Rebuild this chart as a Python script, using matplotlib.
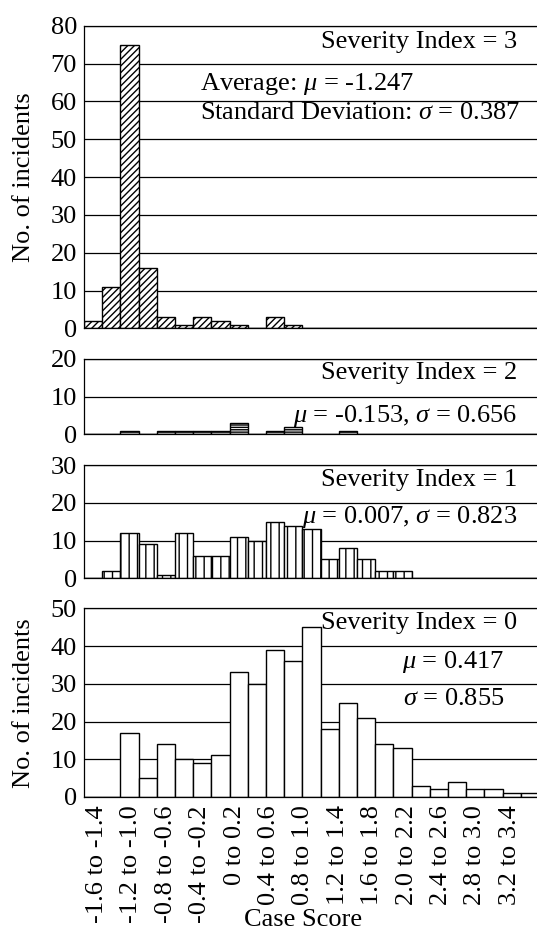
import numpy as np
import matplotlib
matplotlib.use('Agg')
import matplotlib.pyplot as plt

plt.rcParams['font.family'] = ['Liberation Serif', 'DejaVu Serif']
plt.rcParams['mathtext.fontset'] = 'custom'
plt.rcParams['mathtext.rm'] = 'Liberation Serif'
plt.rcParams['mathtext.it'] = 'Liberation Serif:italic'
plt.rcParams['hatch.linewidth'] = 1.0

# case score bins of width 0.2, from -1.6 up to 3.4
bin_labels = ['-1.6 to -1.4', '-1.2 to -1.0', '-0.8 to -0.6', '-0.4 to -0.2',
              '0 to 0.2', '0.4 to 0.6', '0.8 to 1.0', '1.2 to 1.4',
              '1.6 to 1.8', '2.0 to 2.2', '2.4 to 2.6', '2.8 to 3.0',
              '3.2 to 3.4']

# number of incidents per bin, one list per severity index
sev3 = [2, 11, 75, 16, 3, 1, 3, 2, 1, 0, 3, 1, 0,
        0, 0, 0, 0, 0, 0, 0, 0, 0, 0, 0, 0]
sev2 = [0, 0, 1, 0, 1, 1, 1, 1, 3, 0, 1, 2, 0,
        0, 1, 0, 0, 0, 0, 0, 0, 0, 0, 0, 0]
sev1 = [0, 2, 12, 9, 1, 12, 6, 6, 11, 10, 15, 14, 13,
        5, 8, 5, 2, 2, 0, 0, 0, 0, 0, 0, 0]
sev0 = [0, 0, 17, 5, 14, 10, 9, 11, 33, 30, 39, 36, 45,
        18, 25, 21, 14, 13, 3, 2, 4, 2, 2, 1, 1]

FS = 19

def draw_panel(ax, counts, ymax, hatch):
	x = np.arange(len(counts))
	ax.bar(x, counts, width=1.0, align='edge', color='white', edgecolor='black',
	       linewidth=1.0, hatch=hatch, zorder=2)
	ax.set_xlim(0, len(counts))
	ax.set_ylim(0, ymax)
	ax.set_yticks(np.arange(0, ymax + 1, 10))
	ax.yaxis.grid(True, color='black', linewidth=0.9)
	ax.set_axisbelow(True)
	ax.tick_params(length=0, pad=5, labelsize=FS)
	ax.set_xticks([])
	for s in ax.spines.values():
		s.set_linewidth(0.9)

fig = plt.figure(figsize=(5.37, 9.33), dpi=100)
left, width = 0.1564, 0.8473
ax3 = fig.add_axes([left, 0.6481, width, 0.3243])
ax2 = fig.add_axes([left, 0.5345, width, 0.0809])
ax1 = fig.add_axes([left, 0.3802, width, 0.1211])
ax0 = fig.add_axes([left, 0.1458, width, 0.2022])

draw_panel(ax3, sev3, 80, '/////')
draw_panel(ax2, sev2, 20, '-------')
draw_panel(ax1, sev1, 30, '||')
draw_panel(ax0, sev0, 50, None)

# annotations
ax3.text(23.8, 75.8, 'Severity Index = 3', ha='right', va='center', fontsize=FS)
ax3.text(6.37, 64.7, r'Average: $\mu$ = -1.247', ha='left', va='center', fontsize=FS)
ax3.text(6.37, 57.0, r'Standard Deviation: $\sigma$ = 0.387', ha='left', va='center', fontsize=FS)
ax2.text(23.8, 16.2, 'Severity Index = 2', ha='right', va='center', fontsize=FS)
ax2.text(23.8, 4.9, r'$\mu$ = -0.153, $\sigma$ = 0.656', ha='right', va='center', fontsize=FS)
ax1.text(23.8, 26.0, 'Severity Index = 1', ha='right', va='center', fontsize=FS)
ax1.text(23.8, 16.3, r'$\mu$ = 0.007, $\sigma$ = 0.823', ha='right', va='center', fontsize=FS)
ax0.text(23.8, 46.0, 'Severity Index = 0', ha='right', va='center', fontsize=FS)
ax0.text(23.1, 35.8, r'$\mu$ = 0.417', ha='right', va='center', fontsize=FS)
ax0.text(23.1, 26.0, r'$\sigma$ = 0.855', ha='right', va='center', fontsize=FS)

# category labels sit a little off the bars, as in the source chart
label_pos = 0.72 + 1.89 * np.arange(len(bin_labels))
ax0.set_xticks(label_pos)
ax0.set_xticklabels(bin_labels, rotation=90, ha='center', va='top')
ax0.tick_params(axis='x', length=0, pad=6, labelsize=FS)

fig.text(303 / 537, 1 - 920 / 933, 'Case Score', ha='center', va='center', fontsize=FS)
fig.text(24 / 537, 1 - 177 / 933, 'No. of incidents', rotation=90,
         ha='center', va='center', fontsize=FS)
fig.text(24 / 537, 1 - 703 / 933, 'No. of incidents', rotation=90,
         ha='center', va='center', fontsize=FS)

fig.savefig('out.png', dpi=100)
